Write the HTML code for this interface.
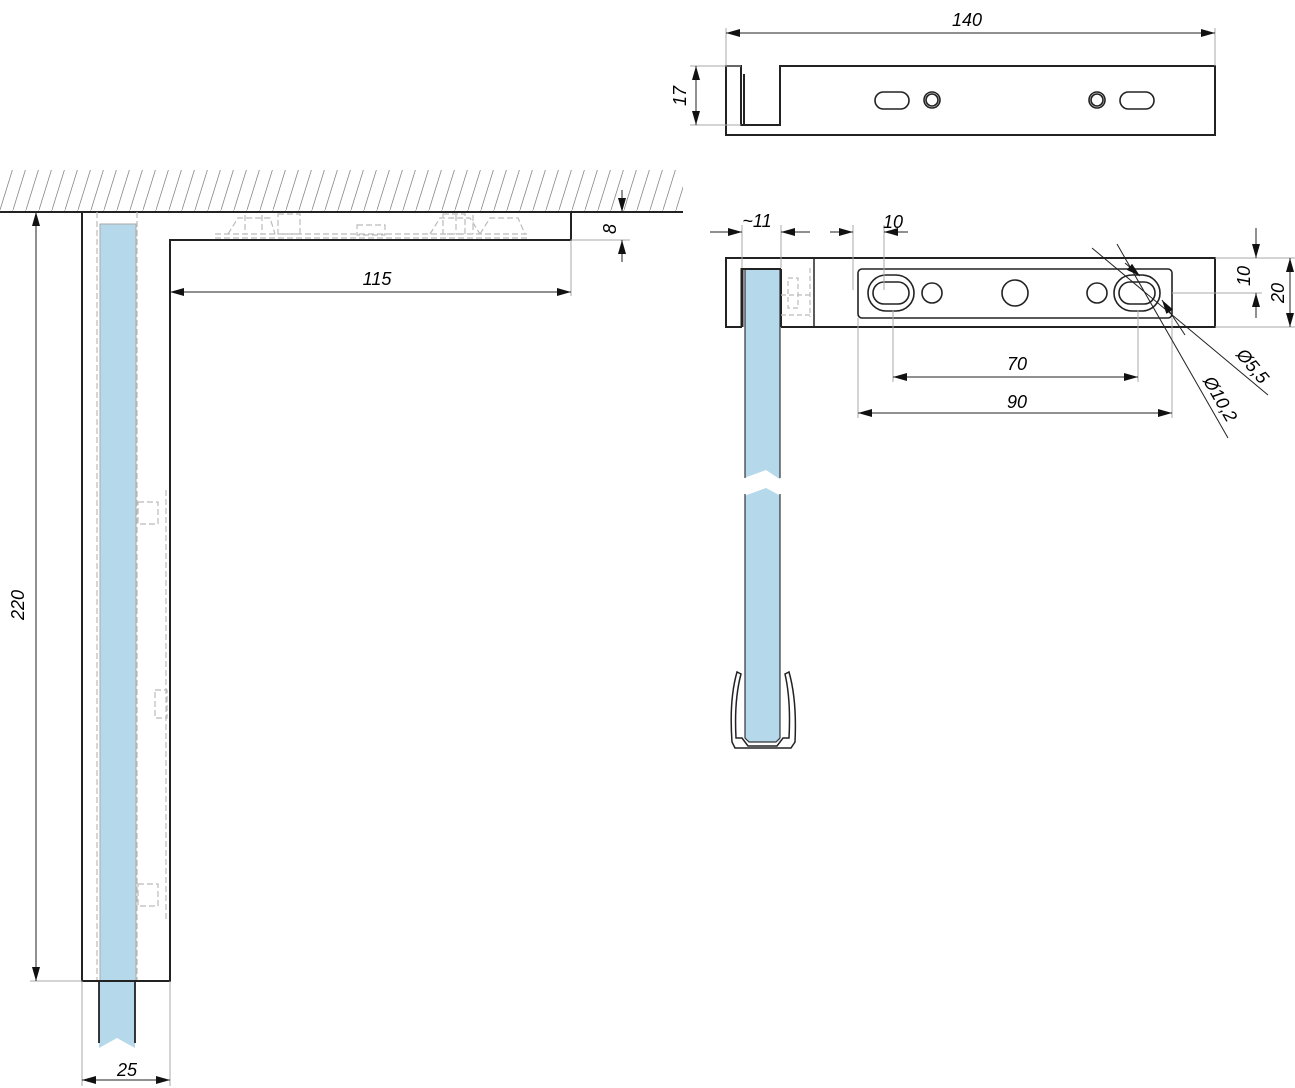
<!DOCTYPE html>
<html><head><meta charset="utf-8"><style>html,body{margin:0;padding:0;background:#fff}svg{display:block}</style></head>
<body>
<svg width="1295" height="1088" viewBox="0 0 1295 1088" xmlns="http://www.w3.org/2000/svg" font-family="Liberation Sans, sans-serif" font-style="italic" font-size="18">
<defs>
<pattern id="h" width="13" height="42" patternUnits="userSpaceOnUse"><line x1="0" y1="42" x2="13" y2="0" stroke="#888" stroke-width="0.8"/></pattern>
<marker id="a" markerWidth="14" markerHeight="8" refX="14" refY="4" orient="auto" markerUnits="userSpaceOnUse"><path d="M0,0 L14,4 L0,8 z" fill="#111"/></marker>
<marker id="b" markerWidth="14" markerHeight="8" refX="0" refY="4" orient="auto" markerUnits="userSpaceOnUse"><path d="M14,0 L0,4 L14,8 z" fill="#111"/></marker>
</defs>
<rect x="0" y="170" width="683" height="42" fill="url(#h)"/>
<line x1="0" y1="212" x2="683" y2="212" stroke="#222" stroke-width="2"/>
<rect x="100" y="224" width="36" height="757" fill="#b5d8ea" stroke="#aaa" stroke-width="1"/>
<path d="M99,981 V1048 L117,1038 L135,1048 V981 Z" fill="#b5d8ea"/>
<path d="M99,981 V1043 M135,981 V1043" stroke="#222" stroke-width="1.8"/>
<g stroke="#bbb" stroke-width="1.2" stroke-dasharray="6,3" fill="none">
<line x1="97" y1="212" x2="97" y2="981"/><line x1="137" y1="212" x2="137" y2="981"/>
<line x1="166" y1="490" x2="166" y2="920"/>
<rect x="138" y="502" width="20" height="22"/><rect x="155" y="690" width="12" height="28"/><rect x="138" y="884" width="20" height="22"/>
<path d="M215,238 H528 M215,234 H528 M228,234 L238,218 H270 L275,234 M245,215 V234 M262,215 V234 M430,234 L440,218 H470 L480,234 M456,215 V234 M473,215 V234 M480,234 L490,218 H518 L525,234"/>
<rect x="278" y="214" width="22" height="20"/><rect x="443" y="214" width="22" height="20"/><rect x="357" y="225" width="28" height="10"/>
</g>
<path d="M82,212 V981 H170 V240 H571 V212" fill="none" stroke="#222" stroke-width="2"/>
<g stroke="#aaa" stroke-width="1" fill="none">
<line x1="30" y1="981" x2="82" y2="981"/><line x1="82" y1="981" x2="82" y2="1086"/><line x1="170" y1="981" x2="170" y2="1086"/>
<line x1="571" y1="240" x2="571" y2="296"/><line x1="571" y1="240" x2="630" y2="240"/>
</g>
<g stroke="#222" stroke-width="1" fill="none">
<line x1="36" y1="212" x2="36" y2="981" marker-start="url(#b)" marker-end="url(#a)"/>
<line x1="82" y1="1080" x2="170" y2="1080" marker-start="url(#b)" marker-end="url(#a)"/>
<line x1="170" y1="292" x2="571" y2="292" marker-start="url(#b)" marker-end="url(#a)"/>
<line x1="622" y1="190" x2="622" y2="212" marker-end="url(#a)"/>
<line x1="622" y1="262" x2="622" y2="240" marker-end="url(#a)"/>
</g>
<text transform="translate(24,605) rotate(-90)" text-anchor="middle">220</text>
<text x="127" y="1076" text-anchor="middle">25</text>
<text x="377" y="285" text-anchor="middle">115</text>
<text transform="translate(616,229) rotate(-90)" text-anchor="middle">8</text>

<path d="M726,66 H741 V125 H780 V66 H1215 V135 H726 Z" fill="none" stroke="#222" stroke-width="2"/>
<line x1="744" y1="74" x2="744" y2="125" stroke="#222" stroke-width="2"/>
<g fill="none" stroke="#222" stroke-width="1.6">
<rect x="875" y="92" width="34" height="17" rx="8.5"/><circle cx="932" cy="100" r="8"/><circle cx="932" cy="100" r="6"/>
<circle cx="1097" cy="100" r="8"/><circle cx="1097" cy="100" r="6"/><rect x="1120" y="92" width="34" height="17" rx="8.5"/>
</g>
<g stroke="#aaa" stroke-width="1"><line x1="726" y1="28" x2="726" y2="66"/><line x1="1215" y1="28" x2="1215" y2="66"/><line x1="690" y1="66" x2="741" y2="66"/><line x1="690" y1="125" x2="741" y2="125"/></g>
<g stroke="#222" stroke-width="1" fill="none">
<line x1="726" y1="33" x2="1215" y2="33" marker-start="url(#b)" marker-end="url(#a)"/>
<line x1="696" y1="66" x2="696" y2="125" marker-start="url(#b)" marker-end="url(#a)"/>
</g>
<text x="967" y="26" text-anchor="middle">140</text>
<text transform="translate(686,96) rotate(-90)" text-anchor="middle">17</text>

<path d="M745,270 H780 V740 L776,742 H749 L745,738 Z" fill="#b5d8ea"/>
<path d="M744,478 L766,470 L781,480 V496 L766,488 L744,496 Z" fill="#fff"/>
<path d="M745,270 V478 M780,270 V478 M745,494 V738 L749,742 H776 L780,738 V494" stroke="#333" stroke-width="1.2" fill="none"/>
<path d="M737,672 Q729,700 732,742 L735,748 H791 L795,742 Q797,700 789,672 L785,674 Q791,700 789,738 L783,738 L777,746 H748 L742,738 L736,738 Q734,700 741,674 Z" fill="#fff" stroke="#222" stroke-width="1.5"/>
<path d="M742,327 H726 V258 H1215 V327 H781" fill="none" stroke="#222" stroke-width="2"/>
<line x1="742" y1="268" x2="742" y2="327" stroke="#222" stroke-width="3"/>
<line x1="742" y1="269" x2="781" y2="269" stroke="#222" stroke-width="2"/>
<line x1="781" y1="269" x2="781" y2="327" stroke="#222" stroke-width="2"/>
<line x1="814" y1="258" x2="814" y2="327" stroke="#222" stroke-width="1.5"/>
<g stroke="#bbb" stroke-width="1.2" stroke-dasharray="5,3" fill="none"><rect x="788" y="278" width="10" height="30"/><line x1="781" y1="295" x2="812" y2="295"/><line x1="781" y1="315" x2="812" y2="315"/><line x1="810" y1="268" x2="810" y2="317"/></g>
<rect x="858" y="269" width="314" height="49" rx="4" fill="none" stroke="#222" stroke-width="1.6"/>
<g fill="none" stroke="#222" stroke-width="1.6">
<rect x="868" y="275" width="46" height="36" rx="18"/><rect x="873" y="282" width="36" height="22" rx="11"/>
<rect x="1114" y="275" width="46" height="36" rx="18"/><rect x="1119" y="282" width="36" height="22" rx="11"/>
<circle cx="932" cy="293" r="10"/><circle cx="1015" cy="293" r="13"/><circle cx="1097" cy="293" r="10"/>
</g>
<g stroke="#aaa" stroke-width="1" fill="none">
<line x1="742" y1="225" x2="742" y2="268"/><line x1="781" y1="225" x2="781" y2="268"/>
<line x1="853" y1="225" x2="853" y2="290"/><line x1="884" y1="225" x2="884" y2="290"/>
<line x1="858" y1="318" x2="858" y2="418"/><line x1="1172" y1="318" x2="1172" y2="418"/>
<line x1="893" y1="310" x2="893" y2="382"/><line x1="1138" y1="310" x2="1138" y2="382"/>
<line x1="1215" y1="258" x2="1295" y2="258"/><line x1="1172" y1="293" x2="1262" y2="293"/><line x1="1215" y1="327" x2="1295" y2="327"/>
</g>
<g stroke="#222" stroke-width="1" fill="none">
<line x1="710" y1="232" x2="742" y2="232" marker-end="url(#a)"/><line x1="810" y1="232" x2="781" y2="232" marker-end="url(#a)"/>
<line x1="830" y1="232" x2="853" y2="232" marker-end="url(#a)"/><line x1="908" y1="232" x2="884" y2="232" marker-end="url(#a)"/>
<line x1="893" y1="377" x2="1138" y2="377" marker-start="url(#b)" marker-end="url(#a)"/>
<line x1="858" y1="413" x2="1172" y2="413" marker-start="url(#b)" marker-end="url(#a)"/>
<line x1="1256" y1="228" x2="1256" y2="258" marker-end="url(#a)"/><line x1="1256" y1="318" x2="1256" y2="293" marker-end="url(#a)"/>
<line x1="1290" y1="258" x2="1290" y2="327" marker-start="url(#b)" marker-end="url(#a)"/>
<line x1="1092" y1="248" x2="1268" y2="395"/><line x1="1117" y1="244" x2="1228" y2="438"/>
<line x1="1125" y1="263" x2="1140" y2="276" marker-end="url(#a)"/>
<line x1="1185" y1="335" x2="1162" y2="300" marker-end="url(#a)"/>
</g>
<text x="757" y="227" text-anchor="middle">~11</text>
<text x="893" y="228" text-anchor="middle">10</text>
<text x="1017" y="370" text-anchor="middle">70</text>
<text x="1017" y="408" text-anchor="middle">90</text>
<text transform="translate(1250,276) rotate(-90)" text-anchor="middle">10</text>
<text transform="translate(1284,293) rotate(-90)" text-anchor="middle">20</text>
<text transform="translate(1248,370) rotate(50)" text-anchor="middle">Ø5,5</text>
<text transform="translate(1215,402) rotate(60)" text-anchor="middle">Ø10,2</text>
</svg>
</body></html>
